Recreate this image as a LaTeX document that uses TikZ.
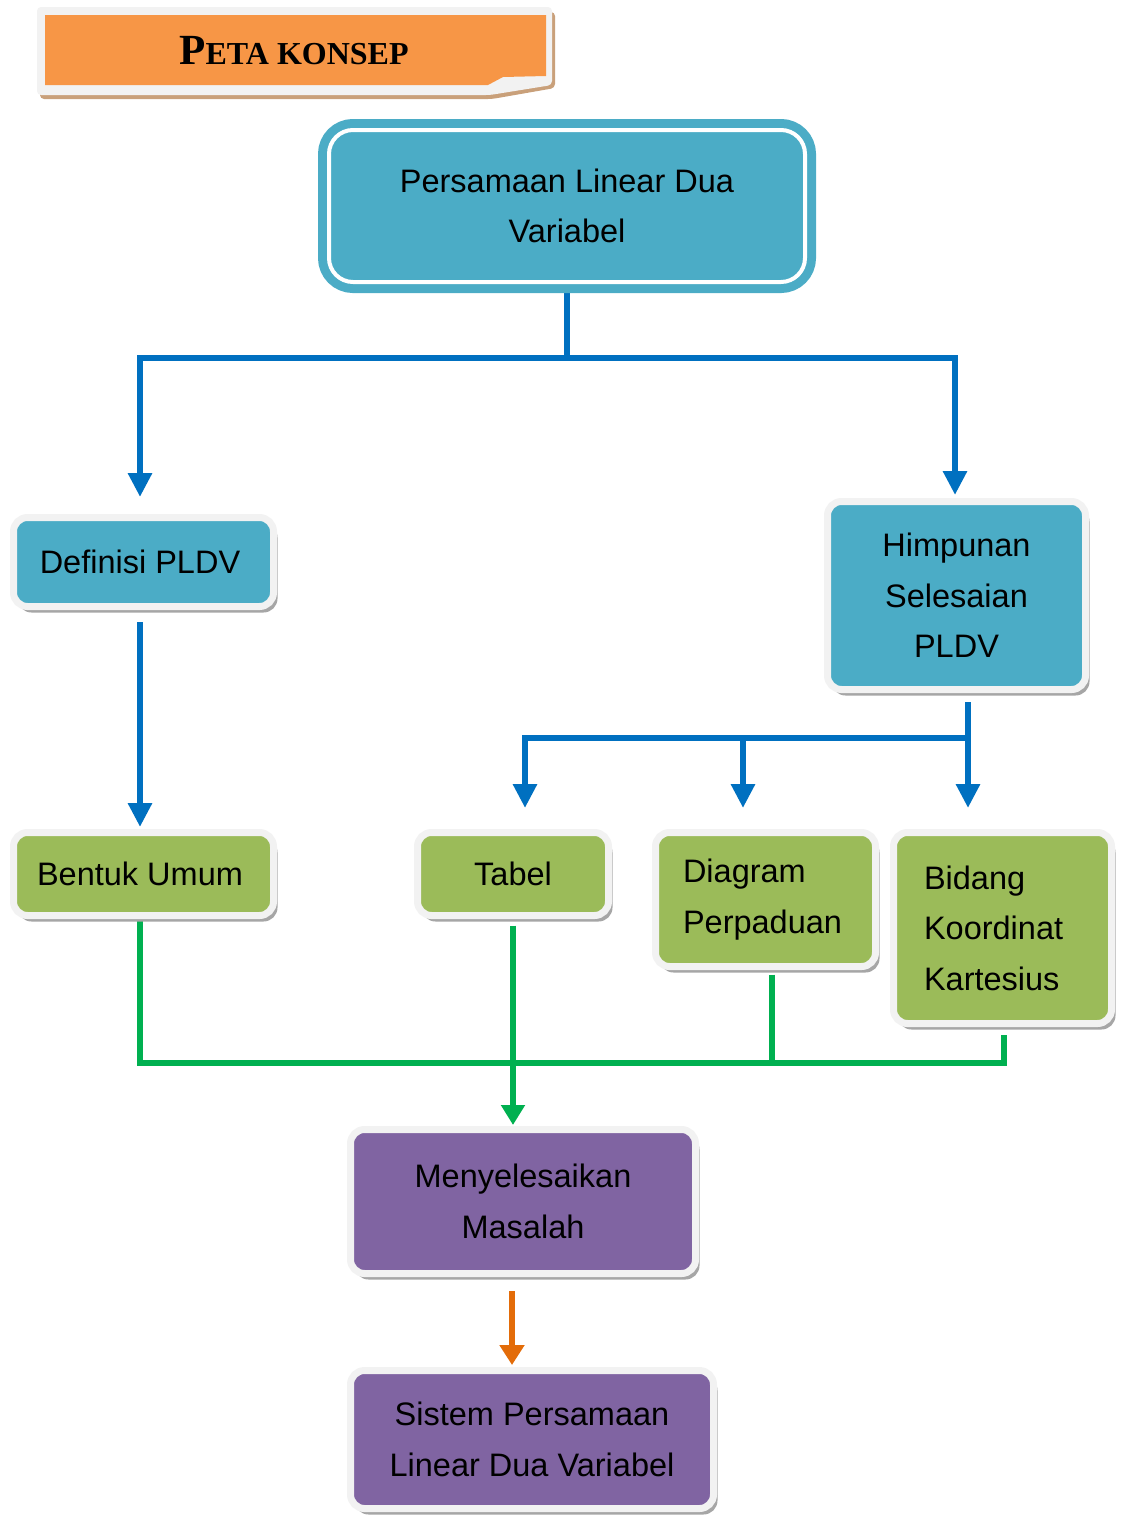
\documentclass[tikz,border=0pt]{standalone}
\usepackage{fontspec}
\setmainfont{Liberation Sans}
\newfontfamily\judulfont{Liberation Serif}
\usetikzlibrary{arrows.meta,shadows,backgrounds}
\definecolor{kotakbiru}{HTML}{4BACC6}
\definecolor{kotakhijau}{HTML}{9BBB59}
\definecolor{kotakungu}{HTML}{8064A2}
\definecolor{garisbiru}{HTML}{0070C0}
\definecolor{garishijau}{HTML}{00B050}
\definecolor{garisoranye}{HTML}{E36C09}
\definecolor{oranyejudul}{HTML}{F79646}
\definecolor{bingkai}{HTML}{F2F2F2}
\definecolor{coklat}{HTML}{C9A07A}

\tikzset{
  kotak/.style={rounded corners=14pt, draw=bingkai, line width=7pt, inner sep=0pt, outer sep=0pt,
    align=center, font=\fontsize{32.5}{50.5}\selectfont,
    drop shadow={shadow xshift=4pt, shadow yshift=-6pt, fill=black!35, opacity=1}},
  panahbiru/.style={draw=garisbiru, line width=6pt, -{Triangle[width=23pt,length=24pt]}},
  garishj/.style={draw=garishijau, line width=6pt},
  panahor/.style={draw=garisoranye, line width=6pt, -{Triangle[width=24pt,length=20pt]}}
}

\begin{document}
\begin{tikzpicture}[x=1pt,y=-1pt]
  \useasboundingbox (0,0) rectangle (1120,1515);

  % judul
  \fill[coklat, rounded corners=4pt] (40,12) -- (555,12) -- (555,88) -- (492,99) -- (40,99) -- cycle;
  \fill[bingkai, rounded corners=4pt] (37,7) -- (552,7) -- (552,85) -- (490,95) -- (37,95) -- cycle;
  \fill[oranyejudul] (45,15) -- (546,15) -- (546,76) -- (503,77) -- (488,85) -- (45,85) -- cycle;
  \node (judul) at (294,51) {\judulfont\bfseries{\fontsize{43}{43}\selectfont P}{\fontsize{32}{32}\selectfont ETA KONSEP}};

  \node[kotak, fill=kotakbiru, draw=white, line width=4pt, rounded corners=24pt, drop shadow={opacity=0},
        preaction={draw=kotakbiru, line width=22pt}, minimum width=476pt, minimum height=152pt]
        (pldv) at (567,206) {Persamaan Linear Dua\\Variabel};

  \node[kotak, fill=kotakbiru, minimum width=260pt, minimum height=89pt] (def) at (143.5,562) {\hspace*{-7pt}Definisi PLDV};
  \node[kotak, fill=kotakbiru, minimum width=258pt, minimum height=188pt] (him) at (956.5,595.5) {Himpunan\\Selesaian\\PLDV};

  \node[kotak, fill=kotakhijau, minimum width=260pt, minimum height=83pt] (bentuk) at (143.5,874) {\hspace*{-7pt}Bentuk Umum};
  \node[kotak, fill=kotakhijau, minimum width=191pt, minimum height=83pt] (tabel) at (513,874) {Tabel};
  \node[kotak, fill=kotakhijau, align=left, text width=165pt, minimum width=220pt, minimum height=134pt]
        (diagram) at (765.5,899.5) {Diagram\\Perpaduan};
  \node[kotak, fill=kotakhijau, align=left, text width=157pt, minimum width=218pt, minimum height=191pt]
        (bidang) at (1002.5,928) {Bidang\\Koordinat\\Kartesius};

  \node[kotak, fill=kotakungu, minimum width=345pt, minimum height=144pt] (masalah) at (523,1201.5) {Menyelesaikan\\Masalah};
  \node[kotak, fill=kotakungu, minimum width=363pt, minimum height=138pt] (spldv) at (532,1439.5) {Sistem Persamaan\\Linear Dua Variabel};

  \begin{scope}[on background layer]
    \draw[panahbiru, shorten >=20.5pt] (pldv.south) -- ++(0,76) -| ([xshift=-3.5pt]def.north);
    \draw[panahbiru, shorten >=6.5pt] (pldv.south) -- ++(0,76) -| ([xshift=-1.5pt]him.north);
    \draw[panahbiru, shorten <=15.5pt, shorten >=5.5pt] ([xshift=-3.5pt]def.south) -- ([xshift=-3.5pt]bentuk.north);

    \coordinate (cabang) at (968,738);
    \draw[panahbiru, shorten <=12.5pt, shorten >=24.5pt] (cabang |- him.south) -- (cabang |- bidang.north);
    \draw[panahbiru, shorten >=24.5pt] (cabang) -| ([xshift=12pt]tabel.north);
    \draw[panahbiru, shorten >=24.5pt] (cabang) -| ([xshift=-22.5pt]diagram.north);

    \coordinate (gabung) at (512,1063);
    \coordinate (hb) at ([xshift=-3.5pt]bentuk.south);
    \coordinate (hd) at ([xshift=6.5pt]diagram.south);
    \coordinate (hk) at ([xshift=1.5pt]bidang.south);
    \draw[garishj, shorten >=11pt] (hb) |- (hk |- gabung) -- (hk);
    \draw[garishj, shorten <=8pt] (hd) -- (hd |- gabung);
    \draw[garishj, shorten <=10pt, shorten >=4.5pt, -{Triangle[width=23pt,length=20pt]}] (tabel.south) -- (tabel.south |- masalah.north);

    \draw[panahor, shorten <=17.5pt, shorten >=5.5pt] ([xshift=-11pt]masalah.south) -- ([xshift=-20pt]spldv.north);
  \end{scope}
\end{tikzpicture}
\end{document}
